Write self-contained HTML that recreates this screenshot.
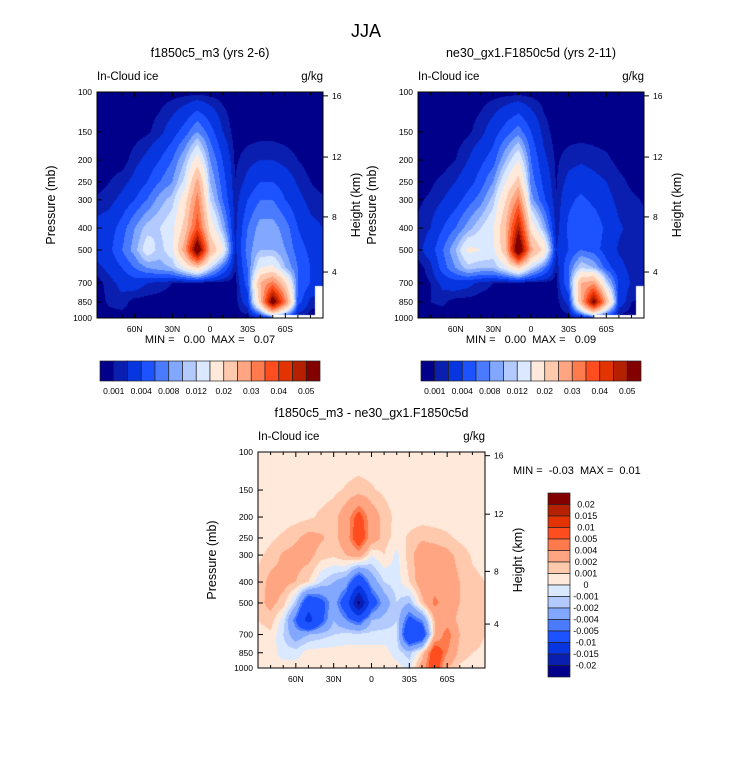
<!DOCTYPE html>
<html><head><meta charset="utf-8">
<style>
html,body{margin:0;padding:0;background:#fff;}
#root{position:relative;width:733px;height:774px;overflow:hidden;font-family:"Liberation Sans",sans-serif;}
canvas{position:absolute;}
svg{position:absolute;left:0;top:0;}
</style></head>
<body>
<div id="root">
<canvas id="c1" style="left:97px;top:92px" width="226" height="226"></canvas>
<canvas id="c2" style="left:418px;top:92px" width="226" height="226"></canvas>
<canvas id="c3" style="left:258px;top:452px" width="227" height="216"></canvas>
<svg id="s" width="733" height="774"></svg>
</div>
<script>
// ---- data (values in units of 1e-3 g/kg) ----
const lats = [90,80,70,60,50,40,30,20,10,0,-10,-20,-30,-40,-50,-60,-70,-80,-90];
const pressures = [100,150,200,250,300,400,500,600,700,850,1000];
const field1 = [
 [0.5,0.5,0.5,0.5,0.5,0.5,0.5,0.5,0.5,0.5,0.5,0.5,0.5,0.5,0.5,0.5,0.5,0.5,0.5],
 [0.5,0.5,0.5,0.5,0.8,1.5,3,5,8,5,2,0.5,0.5,0.5,0.5,0.5,0.5,0.5,0.5],
 [0.5,0.5,0.5,1.5,2.5,4,6,10,17,8,4,0.8,1.5,2,2,1.5,1,0.5,0.5],
 [0.5,1,1.5,2.5,4,6,8,13,27,10,5,1,2.5,4,4,3,1.8,1,0.5],
 [1.2,1.5,2.5,4,6,9,11,18,32,12,6,1.2,4,6,6,4,2.5,1.5,1.2],
 [2.5,3,5,8,11,12,14,22,38,18,10,1.5,6,9,9,7,4,2.5,2],
 [3,3.5,6,9,14,11,14,28,60,25,16,1.5,7,10,10,8,5,3.5,3],
 [1.5,2.5,4,6,8,9,10,15,20,12,6,1,6,15,16,10,6,4,2.5],
 [0.5,1.5,2.5,3,2,1.5,1,0.6,0.5,0.5,0.5,0.5,5,25,32,20,6,4,2],
 [0.5,1.2,1.5,0.5,0.5,0.5,0.5,0.5,0.5,0.5,0.5,0.5,3,22,58,32,5,1.5,1],
 [0.5,0.5,0.5,0.5,0.5,0.5,0.5,0.5,0.5,0.5,0.5,0.5,0.5,1,3,2,0.5,0.5,0.5]
];
const field2 = [
 [0.5,0.5,0.5,0.5,0.5,0.5,0.5,0.5,0.5,0.5,0.5,0.5,0.5,0.5,0.5,0.5,0.5,0.5,0.5],
 [0.5,0.5,0.5,0.5,0.8,1.5,3,5,7,4,1.5,0.5,0.5,0.5,0.5,0.5,0.5,0.5,0.5],
 [0.5,0.5,0.5,1,2,3.5,5,10,15,6,2.5,0.8,1.5,1.8,1.5,1.2,0.7,0.5,0.5],
 [0.5,0.8,1.3,2,3,5,8,15,22,7,3.5,0.9,2.5,3,2.5,2,1.3,0.8,0.5],
 [0.8,1.2,2,3,5,7,11,20,32,9,4.5,1,3.5,4.5,3.5,2.5,1.6,1.2,0.9],
 [1.2,2,4,6,9,12,15,25,48,18,10,1.2,4.5,6,5.5,3.5,2.2,1.6,1.3],
 [1.5,3,6,10,16,15,14,24,62,27,19,2,4,6,5,3,1.8,1.4,1.2],
 [0.5,1.5,5,8,11,10,10,14,20,12,7,1,6,12,10,5,2.5,1.6,1.3],
 [0.5,1,2.5,3,2.5,1.5,1,0.6,0.5,0.5,0.5,0.5,6,25,28,12,3.5,1.8,1.2],
 [0.5,1,1.2,0.5,0.5,0.5,0.5,0.5,0.5,0.5,0.5,0.5,2.5,25,55,25,3,1,0.8],
 [0.5,0.5,0.5,0.5,0.5,0.5,0.5,0.5,0.5,0.5,0.5,0.5,0.5,1,2,1,0.5,0.5,0.5]
];
const field3 = [
 [0.5,0.5,0.5,0.5,0.5,0.5,0.5,0.5,0.5,0.5,0.5,0.5,0.5,0.5,0.5,0.5,0.5,0.5,0.5],
 [0.5,0.5,0.5,0.5,0.5,0.6,0.8,1.1,1.3,1.1,0.8,0.5,0.5,0.5,0.5,0.5,0.5,0.5,0.5],
 [0.5,0.5,0.5,0.6,0.8,1.2,1.5,3,6,3,1.5,0.7,0.5,0.5,0.5,0.5,0.5,0.5,0.5],
 [0.5,0.8,1.2,1.8,2.5,2.2,1.5,3,7,3,1.5,0.5,1.2,1.8,1.5,1.2,0.8,0.5,0.5],
 [0.8,1.3,2.2,2.5,2.5,1.5,1.2,2,3,0,1,-0.3,1.5,3,3,2.5,1.5,0.9,0.7],
 [1.2,2.5,2.5,2,1,-1,-2,-3,-8,-3,-1,-0.5,1,3,3,3,2,1.2,1],
 [1.5,2.5,1.5,-1.5,-8,-6,-3,-7,-22,-7,-3,-1,-2,1.5,4.5,3,2,1.5,1],
 [1,1.5,-0.5,-5,-12,-6,-2,-4,-6,-2,-1.5,-1,-6,-4,2,3,1.5,1.2,1],
 [0.5,0.8,-1,-3,-2,-1.5,-1,-0.7,-0.7,-0.7,-0.7,-0.8,-9,-8,2,5,2,1.5,1],
 [0.5,0.5,-0.5,-0.5,0.5,0.5,0.5,0.5,0.5,0.5,0.5,-0.5,-1.5,1,7,4,1.5,1,0.8],
 [0.5,0.5,0.5,0.5,0.5,0.5,0.5,0.5,0.5,0.5,0.5,0.5,-0.5,3,7,2,0.8,0.5,0.5]
];
const levelsAbs = [1,2,4,6,8,10,12,15,20,25,30,35,40,45,50];
const levelsDiff = [-20,-15,-10,-5,-4,-2,-1,0,1,2,4,5,10,15,20];
const labelsAbs = ["0.001","0.004","0.008","0.012","0.02","0.03","0.04","0.05"];
const labelsDiff = ["0.02","0.015","0.01","0.005","0.004","0.002","0.001","0","-0.001","-0.002","-0.004","-0.005","-0.01","-0.015","-0.02"];
const pTicks = [100,150,200,250,300,400,500,700,850,1000];
const hTicks = [4,8,12,16];
const hTickP = [626,357,194,104];
const latTicks = [60,30,0,-30,-60];
const latLabels = ["60N","30N","0","30S","60S"];
const colors = ["#00008a","#0a1fb0","#0735e0","#1c52ff","#4a7bff","#82a7ff","#b3caff","#dae9ff","#ffe9da","#ffc9ae","#ffa582","#ff7a4c","#ff4d1f","#e33300","#b42000","#820000"];

// ---- rendering ----
const logP = pressures.map(p=>Math.log10(p));
function interp(f, lat, lp){
  let ci=(90-lat)/10; ci=Math.max(0,Math.min(17.999,ci));
  const c0=Math.floor(ci), cf=ci-c0;
  let r0=0; while(r0<logP.length-2 && lp>logP[r0+1]) r0++;
  let rf=(lp-logP[r0])/(logP[r0+1]-logP[r0]); rf=Math.max(0,Math.min(1,rf));
  const a=f[r0][c0]*(1-cf)+f[r0][c0+1]*cf;
  const b=f[r0+1][c0]*(1-cf)+f[r0+1][c0+1]*cf;
  return a*(1-rf)+b*rf;
}
function hex(c){return [parseInt(c.substr(1,2),16),parseInt(c.substr(3,2),16),parseInt(c.substr(5,2),16)];}
const rgb = colors.map(hex);
function draw(id, f, levels, mask){
  const cv=document.getElementById(id), ctx=cv.getContext('2d');
  const w=cv.width,h=cv.height, img=ctx.createImageData(w,h);
  for(let y=0;y<h;y++)for(let x=0;x<w;x++){
    const lat=90-(x+0.5)/w*180, lp=2+(y+0.5)/h, p=Math.pow(10,lp);
    let col;
    if(mask && ((lat<-49 && p>970)||(lat<-84 && p>720))) col=[255,255,255];
    else{ const v=interp(f,lat,lp); let k=0; while(k<levels.length && v>=levels[k]) k++; col=rgb[k]; }
    const i=(y*w+x)*4; img.data[i]=col[0];img.data[i+1]=col[1];img.data[i+2]=col[2];img.data[i+3]=255;
  }
  ctx.putImageData(img,0,0);
}
draw('c1',field1,levelsAbs,true);
draw('c2',field2,levelsAbs,true);
draw('c3',field3,levelsDiff,false);

const S=document.getElementById('s'), NS='http://www.w3.org/2000/svg';
function el(tag,attrs,txt){const e=document.createElementNS(NS,tag);for(const k in attrs)e.setAttribute(k,attrs[k]);if(txt!==undefined)e.textContent=txt;S.appendChild(e);return e;}
function txt(x,y,s,size,anchor,name,rot){
  const t=el('text',{x:x,y:y,'font-size':size,'text-anchor':anchor||'middle','font-family':'Liberation Sans, sans-serif',fill:'#000'},s);
  if(rot) t.setAttribute('transform','rotate(-90 '+x+' '+y+')');
  
  
  return t;
}
function panel(x0,y0,w,h,title,pfx){
  const py=p=>y0+(Math.log10(p)-2)*h;
  const lx=l=>x0+(90-l)/180*w;
  const fr=el('rect',{x:x0,y:y0,width:w,height:h,fill:'none',stroke:'#000','stroke-width':1});
  
  
  txt(x0+w/2,y0-35,title,12.5,'middle',pfx+'-title');
  txt(x0,y0-12,'In-Cloud ice',11.5,'start',pfx+'-variable-label');
  txt(x0+w,y0-12,'g/kg',11.5,'end',pfx+'-units-label');
  pTicks.forEach(p=>{
    const y=py(p);
    const tk=el('line',{x1:x0,x2:x0+5,y1:y,y2:y,stroke:'#000'});
    
    
    txt(x0-5,y+3,String(p),8.5,'end',pfx+'-pressure-tick-label');
  });
  hTicks.forEach((z,i)=>{
    const y=py(hTickP[i]);
    const tk=el('line',{x1:x0+w,x2:x0+w+5,y1:y,y2:y,stroke:'#000'});
    
    
    txt(x0+w+9,y+3,String(z),8.5,'start',pfx+'-height-tick-label');
  });
  for(let l=80;l>=-80;l-=10){
    const x=lx(l), major=(l%30===0);
    const len=major?5:3;
    const a=el('line',{x1:x,x2:x,y1:y0,y2:y0+len,stroke:'#000'});
    
    
    const b=el('line',{x1:x,x2:x,y1:y0+h,y2:y0+h-len,stroke:'#000'});
    
    
  }
  latTicks.forEach((l,i)=>txt(lx(l),y0+h+14,latLabels[i],8.5,'middle',pfx+'-lat-tick-label'));
  txt(x0-42,y0+h/2,'Pressure (mb)',12.5,'middle',pfx+'-y-axis-title',true);
  txt(x0+w+37,y0+h/2,'Height (km)',12.5,'middle',pfx+'-right-axis-title',true);
}
txt(366,37,'JJA',18,'middle','figure-title');
panel(97,92,226,226,'f1850c5_m3 (yrs 2-6)','panel1');
panel(418,92,226,226,'ne30_gx1.F1850c5d (yrs 2-11)','panel2');
panel(258,452,227,216,'f1850c5_m3 - ne30_gx1.F1850c5d','panel3');
txt(210,343,'MIN =   0.00  MAX =   0.07',11,'middle','panel1-min-max');
txt(531,343,'MIN =   0.00  MAX =   0.09',11,'middle','panel2-min-max');
txt(513,474,'MIN =  -0.03  MAX =  0.01',11,'start','panel3-min-max');
document.querySelectorAll('text').forEach(t=>t.style.whiteSpace='pre');

function hbar(x0,y0,w,h,pfx){
  const bw=w/16;
  colors.forEach((c,i)=>{
    const r=el('rect',{x:x0+i*bw,y:y0,width:bw,height:h,fill:c,stroke:'#222','stroke-width':0.7});
    
    
  });
  labelsAbs.forEach((s,i)=>txt(x0+(2*i+1)*bw,y0+h+13,s,8.5,'middle',pfx+'-colorbar-label'));
}
hbar(100,361,220,20,'panel1');
hbar(421,361,220,20,'panel2');
(function(){
  const x0=548,y0=493,w=22,h=184,bh=h/16;
  colors.slice().reverse().forEach((c,i)=>{
    const r=el('rect',{x:x0,y:y0+i*bh,width:w,height:bh,fill:c,stroke:'#222','stroke-width':0.7});
    
    
  });
  labelsDiff.forEach((s,i)=>txt(586,y0+(i+1)*bh+3,s,9,'middle','panel3-colorbar-label'));
})();
</script>
</body></html>
